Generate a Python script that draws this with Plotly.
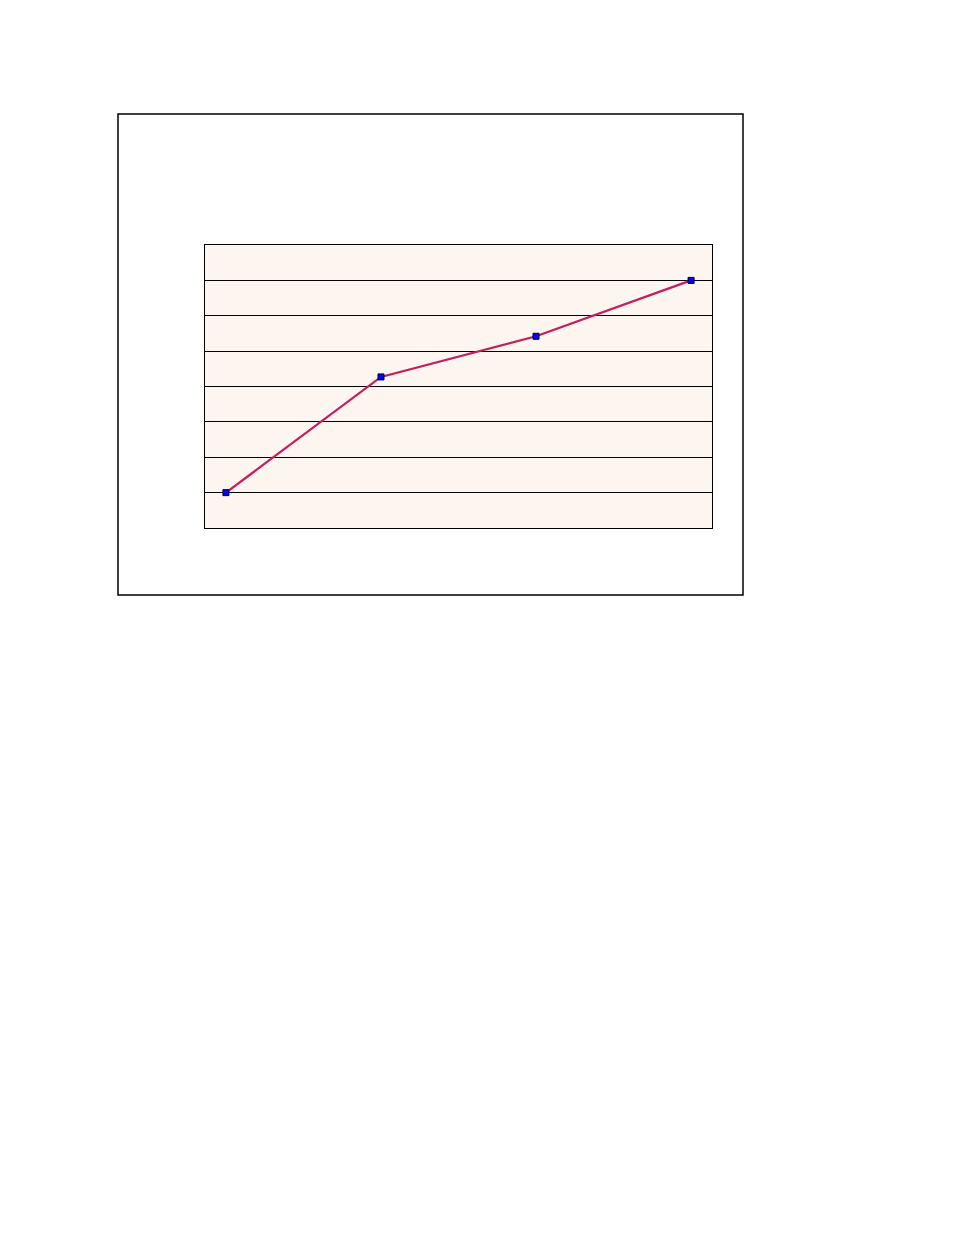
import plotly.graph_objects as go

# categories and values (no labels visible)
categories = [0, 1, 2, 3]
values = [10, 42.7, 54.2, 70]

W, H = 940, 1220
OFF = 7  # page body offset
# plot area in pixels (as seen in the page)
px_l, px_r, px_t, px_b = 204, 711, 244, 527
pw, ph = px_r - px_l, px_b - px_t

fig = go.Figure()
fig.add_trace(go.Scatter(
    x=categories, y=values,
    mode='lines+markers',
    line=dict(color='#C41E5E', width=2.3),
    marker=dict(symbol='square', size=6, color='#0000FF',
                line=dict(color='#000033', width=1)),
    showlegend=False,
    hoverinfo='skip',
))

# outer chart frame
fig.add_shape(
    type='rect', xref='paper', yref='paper',
    x0=(117 - px_l) / pw, x1=(742 - px_l) / pw,
    y0=(px_b - 594) / ph, y1=(px_b - 113) / ph,
    line=dict(color='black', width=1.5), fillcolor='rgba(0,0,0,0)',
    layer='below',
)

fig.update_layout(
    width=W, height=H,
    margin=dict(l=px_l - OFF, r=W - (px_r - OFF), t=px_t - OFF,
                b=H - (px_b - OFF), pad=0),
    paper_bgcolor='white',
    plot_bgcolor='#FDF5F0',
    xaxis=dict(range=[-0.135, 3.135], showgrid=False, zeroline=False,
               showticklabels=False, ticks='', showline=True,
               linecolor='black', linewidth=1, mirror=True),
    yaxis=dict(range=[0, 80], dtick=10, showgrid=True, gridcolor='black',
               gridwidth=1, zeroline=False, showticklabels=False, ticks='',
               showline=True, linecolor='black', linewidth=1, mirror=True),
)

fig.write_html("out.html")
